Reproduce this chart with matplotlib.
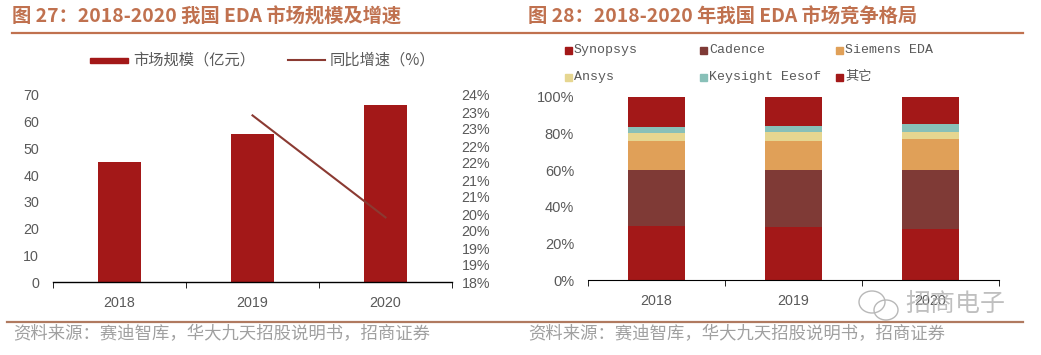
import matplotlib
matplotlib.use("Agg")
import matplotlib.pyplot as plt
import matplotlib.ticker as mticker
from matplotlib.patches import Rectangle, Ellipse
from matplotlib.lines import Line2D

plt.rcParams["font.family"] = ["Liberation Sans", "Noto Sans CJK SC", "DejaVu Sans"]

# ── Data ───────────────────────────────────────────────────────
years        = ["2018", "2019", "2020"]
market_size  = [45.0, 55.3, 66.2]          # 亿元
growth_years = ["2019", "2020"]
growth_pct   = [22.9, 19.9]                # %

vendors = ["Synopsys", "Cadence", "Siemens EDA", "Ansys", "Keysight Eesof", "其它"]
shares = {
    "Synopsys":       [29.6, 29.1, 27.8],
    "Cadence":        [30.4, 30.9, 32.2],
    "Siemens EDA":    [15.8, 15.8, 16.7],
    "Ansys":          [4.5, 5.1, 4.2],
    "Keysight Eesof": [3.3, 3.3, 4.2],
    "其它":           [16.4, 15.8, 14.9],
}

TITLE_C = "#c0714f"
TICK_C  = "#595959"
BAR_RED = "#a31818"
LINE_C  = "#8b3a32"
VENDOR_COLORS = ["#a31818", "#7f3a36", "#e0a058", "#e6d690", "#88c0b8", "#a31818"]

W, H = 1041, 355
fig = plt.figure(figsize=(W / 100, H / 100), dpi=100)
fig.patch.set_facecolor("white")

def fx(px): return px / W
def fy(py): return 1 - py / H

CJK = ["Noto Sans CJK SC", "DejaVu Sans"]

# ── Headers / footers ──────────────────────────────────────────
fig.text(fx(12), fy(17), "图 27：2018-2020 我国 EDA 市场规模及增速", family=CJK,
         fontsize=13.9, fontweight="bold", color=TITLE_C, va="center", ha="left")
fig.text(fx(528), fy(17), "图 28：2018-2020 年我国 EDA 市场竞争格局", family=CJK,
         fontsize=13.9, fontweight="bold", color=TITLE_C, va="center", ha="left")
fig.add_artist(Line2D([fx(12), fx(1023)], [fy(33), fy(33)], color=TITLE_C, lw=1.6))
fig.add_artist(Line2D([fx(7), fx(1023)], [fy(322), fy(322)], color="#b07a60", lw=1.6))
for x0 in (13, 528):
    fig.text(fx(x0), fy(334), "资料来源：赛迪智库，华大九天招股说明书，招商证券", family=CJK,
             fontsize=12.5, fontweight="light", color="#a0a0a0", va="center", ha="left")

# watermark
fig.text(fx(905), fy(304), "招商电子", family=CJK, fontsize=18, color="#b0b0b0",
         va="center", ha="left", alpha=0.8)
fig.add_artist(Ellipse((fx(872), fy(302)), fx(26), 22 / H, fill=False, ec="#b8b8b8", lw=1))
fig.add_artist(Ellipse((fx(886), fy(310)), fx(24), 20 / H, fill=False, ec="#b8b8b8", lw=1))

# ── Left panel: market size + growth ───────────────────────────
ax1 = fig.add_axes([fx(53), fy(282), fx(452) - fx(53), fy(95) - fy(282)])
x = list(range(len(years)))
ax1.bar(x, market_size, width=0.32, color=BAR_RED, edgecolor="none", zorder=2)
ax1.set_xlim(-0.5, 2.5)
ax1.set_ylim(0, 70)
ax1.set_yticks(range(0, 71, 10))
ax1.set_xticks(x)
ax1.set_xticklabels(years)
ax1.set_xticks([-0.5, 0.5, 1.5, 2.5], minor=True)
ax1.tick_params(axis="x", which="major", length=0, pad=10, labelsize=10.3, labelcolor=TICK_C)
ax1.tick_params(axis="x", which="minor", length=4, direction="out", color="black")
ax1.tick_params(axis="y", length=0, pad=10, labelsize=10.3, labelcolor=TICK_C)
for s in ("top", "right", "left"):
    ax1.spines[s].set_visible(False)
ax1.spines["bottom"].set_color("black")
ax1.spines["bottom"].set_linewidth(1)

ax1r = ax1.twinx()
gx = [years.index(y) for y in growth_years]
ax1r.plot(gx, growth_pct, color=LINE_C, lw=1.5, zorder=3)
ax1r.set_ylim(18, 23.5)
ax1r.set_yticks([18 + 0.5 * i for i in range(12)])
ax1r.yaxis.set_major_formatter(mticker.FuncFormatter(lambda v, p: f"{int(v + 0.5 + 1e-9)}%"))
ax1r.tick_params(axis="y", length=0, pad=7, labelsize=10.3, labelcolor=TICK_C)
for s in ax1r.spines.values():
    s.set_visible(False)

# left legend
fig.add_artist(Rectangle((fx(90), fy(63)), fx(38), 5 / H, color=BAR_RED))
fig.text(fx(133), fy(60), "市场规模（亿元）", family=CJK, fontsize=11, color=TICK_C,
         va="center", ha="left")
fig.add_artist(Line2D([fx(288), fx(325)], [fy(60), fy(60)], color=LINE_C, lw=1.5))
fig.text(fx(330), fy(60), "同比增速（%）", family=CJK, fontsize=11, color=TICK_C,
         va="center", ha="left")

# ── Right panel: competitive landscape ─────────────────────────
ax2 = fig.add_axes([fx(588), fy(280), fx(999) - fx(588), fy(96.7) - fy(280)])
bottom = [0.0, 0.0, 0.0]
for name, color in zip(vendors, VENDOR_COLORS):
    vals = [v / 100 for v in shares[name]]
    ax2.bar(x, vals, bottom=bottom, width=0.415, color=color, edgecolor="none")
    bottom = [b + v for b, v in zip(bottom, vals)]
ax2.set_xlim(-0.5, 2.5)
ax2.set_ylim(0, 1)
ax2.set_yticks([0, 0.2, 0.4, 0.6, 0.8, 1.0])
ax2.yaxis.set_major_formatter(mticker.FuncFormatter(lambda v, p: f"{v * 100:.0f}%"))
ax2.set_xticks(x)
ax2.set_xticklabels(years)
ax2.set_xticks([-0.5, 0.5, 1.5, 2.5], minor=True)
ax2.tick_params(axis="x", which="major", length=0, pad=10, labelsize=10.3, labelcolor=TICK_C)
ax2.tick_params(axis="x", which="minor", length=4, direction="out", color="black")
ax2.tick_params(axis="y", length=0, pad=10, labelsize=10.5, labelcolor=TICK_C)
for s in ("top", "right", "left"):
    ax2.spines[s].set_visible(False)
ax2.spines["bottom"].set_color("black")

# right legend (two rows x three columns)
leg_pos = [(565, 50), (700, 50), (836, 50), (565, 77), (700, 77), (836, 77)]
for (px, py), name, color in zip(leg_pos, vendors, VENDOR_COLORS):
    fig.add_artist(Rectangle((fx(px), fy(py + 3.5)), fx(7), 7 / H, color=color))
    fig.text(fx(px + 9), fy(py), name, family=["Liberation Mono", "Noto Sans CJK SC"],
             fontsize=9.5, color=TICK_C, va="center", ha="left")

fig.savefig("out.png", dpi=100, facecolor="white")
